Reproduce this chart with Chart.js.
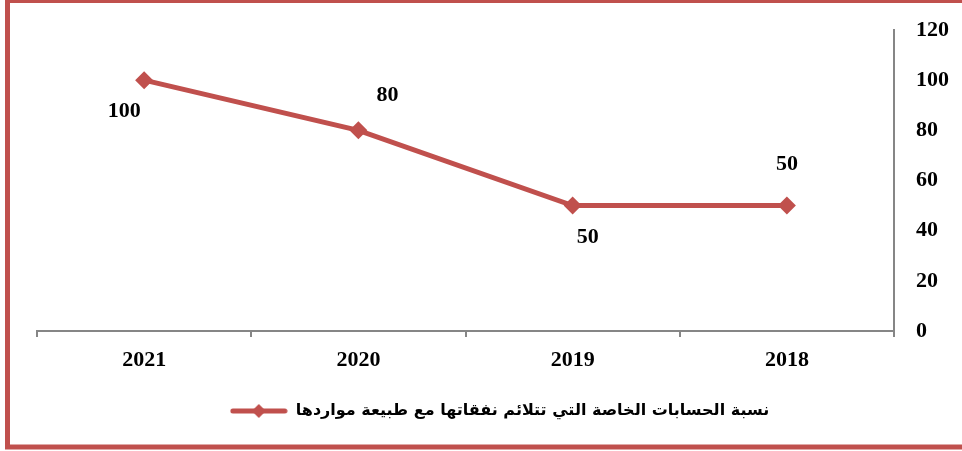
<!DOCTYPE html>
<html>
<head>
<meta charset="utf-8">
<script src="https://cdn.jsdelivr.net/npm/chart.js@4/dist/chart.umd.min.js"></script>
<style>
html,body{margin:0;padding:0;background:#fff;}
#wrap{width:962px;height:451px;position:relative;}
</style>
</head>
<body>
<div id="wrap"><canvas id="c" width="962" height="451"></canvas></div>
<script>
// ---- data ----
const categories = ['2021', '2020', '2019', '2018'];
const values = [100, 80, 50, 50];
const seriesName = 'نسبة الحسابات الخاصة التي تتلائم نفقاتها مع طبيعة مواردها';
const yMin = 0;
const yMax = 120;
const yStep = 20;

// ---- style ----
const RED = '#C0504D';
const AXIS = '#868686';
const labelOffsets = [[-20, 31], [29, -35], [15, 32], [0, -41]];

// legend symbol: line with a diamond
const sym = document.createElement('canvas');
sym.width = 58; sym.height = 18;
(function(){
  const g = sym.getContext('2d');
  g.strokeStyle = RED; g.lineWidth = 5; g.lineCap = 'round';
  g.beginPath(); g.moveTo(3, 9); g.lineTo(55, 9); g.stroke();
  g.fillStyle = RED;
  g.beginPath(); g.moveTo(29, 2); g.lineTo(36, 9); g.lineTo(29, 16); g.lineTo(22, 9); g.closePath(); g.fill();
})();

const frame = {
  id: 'frame',
  afterDraw(chart) {
    const ctx = chart.ctx;
    ctx.save();
    ctx.strokeStyle = RED;
    ctx.lineWidth = 5;
    ctx.strokeRect(7.5, 0.5, 970, 446.5);
    ctx.restore();
  }
};

const dataLabels = {
  id: 'dataLabels',
  afterDatasetsDraw(chart) {
    const ctx = chart.ctx;
    const meta = chart.getDatasetMeta(0);
    ctx.save();
    ctx.font = 'bold 22px "Liberation Serif", "Times New Roman", serif';
    ctx.fillStyle = '#000';
    ctx.textAlign = 'center';
    ctx.textBaseline = 'middle';
    meta.data.forEach((pt, i) => {
      const o = labelOffsets[i];
      ctx.fillText(String(values[i]), pt.x + o[0], pt.y + o[1]);
    });
    ctx.restore();
  }
};

new Chart(document.getElementById('c'), {
  type: 'line',
  data: {
    labels: categories,
    datasets: [{
      label: seriesName,
      data: values,
      borderColor: RED,
      backgroundColor: RED,
      borderWidth: 5,
      pointStyle: 'rectRot',
      pointRadius: 9,
      pointHoverRadius: 9,
      pointBackgroundColor: RED,
      pointBorderColor: RED,
      pointBorderWidth: 0,
      tension: 0
    }]
  },
  options: {
    responsive: false,
    animation: false,
    events: [],
    layout: { padding: { left: 37, right: 0, top: 30, bottom: 22 } },
    scales: {
      x: {
        offset: true,
        grid: { display: true, offset: true, drawOnChartArea: false, drawTicks: true, tickLength: 6, color: AXIS, lineWidth: 2 },
        border: { display: true, color: AXIS, width: 2 },
        ticks: { color: '#000', padding: 10, font: { family: '"Liberation Serif", "Times New Roman", serif', size: 22, weight: 'bold' } },
        afterFit(s) { s.height = 62; s.paddingLeft = 0; s.paddingRight = 0; }
      },
      y: {
        position: 'right',
        min: yMin, max: yMax,
        ticks: { stepSize: yStep, color: '#000', padding: 22, font: { family: '"Liberation Serif", "Times New Roman", serif', size: 22, weight: 'bold' } },
        grid: { display: false, drawTicks: false },
        border: { display: true, color: AXIS, width: 2 },
        afterFit(s) { s.width = 68; s.paddingTop = 0; s.paddingBottom = 0; }
      }
    },
    plugins: {
      tooltip: { enabled: false },
      legend: {
        position: 'bottom',
        labels: {
          usePointStyle: true,
          pointStyle: sym,
          pointStyleWidth: 58,
          color: '#000',
          padding: 10,
          font: { family: '"DejaVu Sans", sans-serif', size: 16, weight: 'bold' },
          generateLabels(chart) {
            return [{ text: seriesName, pointStyle: sym, fillStyle: RED, strokeStyle: RED, lineWidth: 0, datasetIndex: 0, hidden: false, fontColor: '#000' }];
          }
        }
      }
    }
  },
  plugins: [frame, dataLabels]
});
</script>
</body>
</html>
